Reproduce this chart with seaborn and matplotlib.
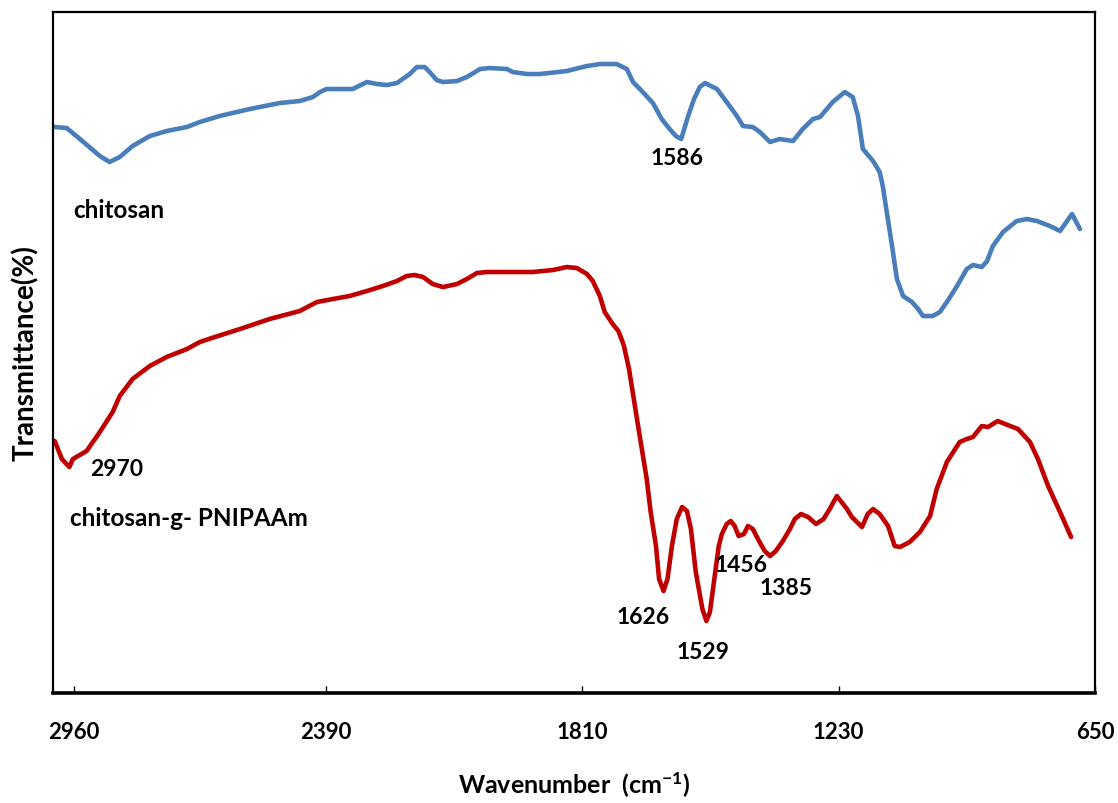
import matplotlib
matplotlib.use("Agg")
import matplotlib.pyplot as plt
import seaborn as sns
import pandas as pd

# FTIR spectra (wavenumber in cm-1, transmittance in arbitrary offset units)
chitosan_wn = [3003, 2976, 2946, 2901, 2879, 2856, 2827, 2788, 2750, 2704, 2675, 2630,
               2562, 2494, 2449, 2419, 2403, 2388, 2329, 2297, 2274, 2252, 2229, 2200,
               2184, 2166, 2155, 2139, 2125, 2093, 2071, 2041, 2019, 1980, 1967, 1935,
               1906, 1845, 1799, 1770, 1732, 1709, 1695, 1673, 1650, 1630, 1612, 1598,
               1586, 1571, 1557, 1544, 1532, 1505, 1483, 1460, 1446, 1424, 1408, 1385,
               1363, 1333, 1311, 1288, 1272, 1243, 1216, 1198, 1186, 1175, 1152, 1137,
               1130, 1121, 1109, 1098, 1084, 1064, 1050, 1039, 1017, 1001, 985, 962,
               940, 926, 906, 894, 881, 858, 827, 804, 781, 752, 729, 702, 684]
chitosan_t = [56.6, 56.5, 55.4, 53.7, 53.1, 53.6, 54.7, 55.7, 56.2, 56.6, 57.1, 57.7,
              58.4, 59.0, 59.2, 59.6, 60.1, 60.4, 60.4, 61.1, 60.9, 60.8, 61.0, 61.9,
              62.6, 62.6, 62.1, 61.3, 61.1, 61.2, 61.6, 62.4, 62.5, 62.4, 62.1, 61.9,
              61.9, 62.2, 62.7, 62.9, 62.9, 62.4, 61.1, 60.1, 59.0, 57.4, 56.4, 55.7,
              55.4, 57.6, 59.4, 60.6, 61.0, 60.4, 59.1, 57.7, 56.7, 56.6, 56.1, 55.1,
              55.4, 55.2, 56.4, 57.4, 57.6, 59.1, 60.1, 59.6, 57.7, 54.4, 53.2, 52.1,
              50.7, 48.1, 44.7, 41.4, 39.7, 39.1, 38.4, 37.7, 37.7, 38.1, 39.1, 40.7,
              42.4, 42.8, 42.6, 43.2, 44.7, 46.1, 47.2, 47.4, 47.2, 46.7, 46.2, 47.9, 46.4]

graft_wn = [3003, 2987, 2970, 2962, 2931, 2901, 2872, 2856, 2827, 2788, 2750, 2704,
            2675, 2641, 2584, 2517, 2449, 2410, 2374, 2336, 2297, 2261, 2229, 2207,
            2189, 2170, 2148, 2125, 2093, 2071, 2048, 2026, 1996, 1958, 1922, 1876,
            1845, 1822, 1799, 1786, 1770, 1759, 1741, 1728, 1716, 1704, 1686, 1664,
            1655, 1643, 1636, 1626, 1617, 1607, 1596, 1584, 1573, 1564, 1553, 1538,
            1529, 1521, 1511, 1501, 1494, 1483, 1474, 1465, 1456, 1444, 1435, 1424,
            1410, 1397, 1385, 1372, 1356, 1340, 1329, 1315, 1299, 1281, 1264, 1250,
            1234, 1211, 1200, 1177, 1164, 1152, 1137, 1118, 1103, 1091, 1069, 1046,
            1023, 1008, 985, 956, 940, 926, 906, 892, 870, 842, 824, 797, 779, 756,
            729, 704]
graft_t = [25.2, 23.4, 22.6, 23.4, 24.2, 26.1, 28.1, 29.7, 31.4, 32.7, 33.6, 34.4,
           35.1, 35.6, 36.4, 37.4, 38.2, 39.1, 39.4, 39.7, 40.2, 40.7, 41.2, 41.7,
           41.8, 41.6, 40.9, 40.6, 40.9, 41.4, 42.0, 42.1, 42.1, 42.1, 42.1, 42.3,
           42.6, 42.5, 41.9, 41.2, 39.7, 38.1, 36.9, 36.2, 34.8, 32.4, 27.4, 21.4,
           18.1, 14.7, 11.4, 10.2, 11.4, 14.7, 17.4, 18.6, 18.2, 16.4, 12.1, 8.4,
           7.2, 8.1, 11.4, 14.7, 15.9, 16.9, 17.2, 16.7, 15.7, 15.9, 16.7, 16.4,
           15.2, 14.2, 13.7, 14.2, 15.2, 16.4, 17.4, 17.9, 17.6, 16.9, 17.4, 18.4,
           19.7, 18.4, 17.6, 16.6, 17.9, 18.4, 17.9, 16.7, 14.7, 14.6, 15.1, 16.1,
           17.7, 20.4, 23.1, 25.1, 25.4, 25.6, 26.7, 26.6, 27.2, 26.7, 26.4, 25.1,
           23.4, 20.7, 18.1, 15.6]

series_names = ["chitosan", "chitosan-g- PNIPAAm"]
series_colors = ["#4A7EBB", "#C00000"]
x_ticks = [2960, 2390, 1810, 1230, 650]
peak_labels = [("1586", 1596, 53.6), ("2970", 2863, 22.5), ("1626", 1673, 7.7),
               ("1529", 1537, 4.2), ("1456", 1451, 12.9), ("1385", 1349, 10.6)]

sns.set_theme(style="white")
plt.rcParams["font.family"] = ["Lato", "DejaVu Sans"]
plt.rcParams["font.weight"] = "bold"
plt.rcParams["mathtext.fontset"] = "custom"
plt.rcParams["mathtext.rm"] = "Lato:bold"
plt.rcParams["mathtext.it"] = "Lato:bold:italic"
plt.rcParams["mathtext.bf"] = "Lato:bold"
plt.rcParams["mathtext.default"] = "rm"

df = pd.concat([
    pd.DataFrame({"wn": chitosan_wn, "T": chitosan_t, "sample": series_names[0]}),
    pd.DataFrame({"wn": graft_wn, "T": graft_t, "sample": series_names[1]}),
])

fig = plt.figure(figsize=(11.18, 8.04), dpi=100)
ax = fig.add_axes([0.0474, 0.1368, 0.9794 - 0.0474, 0.9838 - 0.1368])

sns.lineplot(data=df, x="wn", y="T", hue="sample", palette=series_colors,
             hue_order=series_names, sort=False, estimator=None,
             linewidth=3.3, legend=False, ax=ax)
for line in ax.get_lines():
    line.set_solid_joinstyle("round")
    line.set_solid_capstyle("round")

ax.set_xlim(3007, 650)
ax.set_ylim(0, 68.1)
ax.set_xticks(x_ticks)
ax.set_xticklabels([str(v) for v in x_ticks])
ax.set_yticks([])
ax.tick_params(axis="x", bottom=True, direction="in", length=5, width=1,
               pad=20, labelsize=16, colors="black")
for lbl in ax.get_xticklabels():
    lbl.set_fontweight("bold")

for side in ["left", "right", "top"]:
    ax.spines[side].set_color("black")
    ax.spines[side].set_linewidth(1.6)
ax.spines["bottom"].set_color("black")
ax.spines["bottom"].set_linewidth(2.6)

ax.set_xlabel("Wavenumber  (cm$^{-1}$)", fontsize=18, fontweight="bold",
              labelpad=20, color="black")
ax.set_ylabel("Transmittance(%)", fontsize=20, fontweight="bold",
              labelpad=10, color="black")

ax.text(2962, 48.4, series_names[0], fontsize=17.5, fontweight="bold",
        ha="left", va="center", color="black")
ax.text(2969, 17.6, series_names[1], fontsize=17.5, fontweight="bold",
        ha="left", va="center", color="black")
for txt, xv, yv in peak_labels:
    ax.text(xv, yv, txt, fontsize=16.5, fontweight="bold", ha="center",
            va="center", color="black")

fig.savefig("out.png", dpi=100)
